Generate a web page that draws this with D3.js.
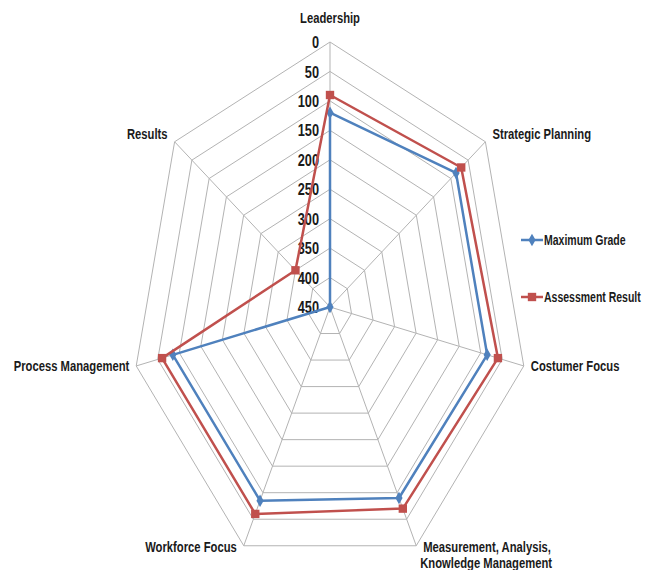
<!DOCTYPE html>
<html><head><meta charset="utf-8">
<script src="https://cdn.jsdelivr.net/npm/d3@7/dist/d3.min.js"></script>
<style>
body{margin:0;background:#fff;}
text{font-family:"Liberation Sans",Arial,sans-serif;fill:#1a1a1a;}
</style></head>
<body>
<svg id="chart" width="646" height="570"></svg>
<script>
const categories = ["Leadership","Strategic Planning","Costumer Focus","Measurement, Analysis, Knowledge Management","Workforce Focus","Process Management","Results"];
const seriesNames = ["Maximum Grade","Assessment Result"];
const maximumGrade = [120,85,85,90,85,85,450];
const assessmentResult = [90,70,60,70,60,60,350];
const tickValues = [0,50,100,150,200,250,300,350,400,450];
const colors = ["#4F81BD","#C0504D"];

const svg = d3.select("#chart");
const sx = 0.75;            // horizontal compression of the reference
const cx = 330, cy = 307, R = 265;
const g = svg.append("g").attr("transform",`translate(${cx},${cy}) scale(${sx},1)`);

const n = categories.length;
const angle = i => i * 2 * Math.PI / n;
// reversed radial scale: 0 at the rim, 450 at the centre
const r = d3.scaleLinear().domain([0,450]).range([R,0]);
const pt = (i,v) => [Math.sin(angle(i))*r(v), -Math.cos(angle(i))*r(v)];

// grid rings
const ringVals = tickValues.slice(0,-1);
g.selectAll(".ring").data(ringVals).join("path")
  .attr("d", v => d3.line()(d3.range(n).map(i=>pt(i,v))) + "Z")
  .attr("fill","none").attr("stroke","#b3b3b3").attr("stroke-width",1)
  .attr("vector-effect","non-scaling-stroke");
// spokes
g.selectAll(".spoke").data(d3.range(n)).join("line")
  .attr("x1",0).attr("y1",0)
  .attr("x2",i=>pt(i,0)[0]).attr("y2",i=>pt(i,0)[1])
  .attr("stroke","#b3b3b3").attr("stroke-width",1)
  .attr("vector-effect","non-scaling-stroke");

// tick labels
g.selectAll(".tick").data(tickValues).join("text")
  .attr("x",-11/sx).attr("y",v=>-r(v)).attr("dy","0.36em")
  .attr("text-anchor","end").attr("font-size",17).attr("font-weight","bold")
  .text(d=>d);

// series
const series = [maximumGrade, assessmentResult];
series.forEach((vals,s)=>{
  const pts = vals.map((v,i)=>pt(i,v));
  g.append("path").attr("d", d3.line()(pts)+"Z")
    .attr("fill","none").attr("stroke",colors[s]).attr("stroke-width",2.5)
    .attr("stroke-linejoin","round")
    .attr("vector-effect","non-scaling-stroke");
  const sym = s===0 ? d3.symbolDiamond : d3.symbolSquare;
  const size = s===0 ? 45 : 70;
  g.selectAll(".m"+s).data(pts).join("path")
    .attr("transform",p=>`translate(${p[0]},${p[1]}) scale(${1/sx},1)`)
    .attr("d", d3.symbol().type(sym).size(size)())
    .attr("fill",colors[s]);
});

// category labels
categories.forEach((c,i)=>{
  const a = angle(i), s = Math.sin(a), co = Math.cos(a);
  const [vx,vy] = pt(i,0);
  let anchor = "middle", x = vx, y = vy;
  if (s > 0.1) { anchor="start"; x = vx + 7/sx; }
  else if (s < -0.1) { anchor="end"; x = vx - 7/sx; }
  if (i===0) y = vy - 24;
  else if (co > 0.5) y = vy - 8;
  else if (co < -0.5) y = vy + 1;
  const t = g.append("text").attr("x",x).attr("y",y).attr("dy","0.36em")
    .attr("text-anchor",anchor).attr("font-size",15).attr("font-weight","bold");
  if (c.startsWith("Measurement")) {
    t.append("tspan").attr("x",x).text("Measurement, Analysis,");
    t.append("tspan").attr("x",x-3/sx).attr("dy","1.05em").text("Knowledge Management");
  } else t.text(c);
});

// legend
const lg = svg.append("g").attr("transform",`scale(${sx},1)`);
seriesNames.forEach((name,s)=>{
  const y = s===0 ? 240 : 297;
  lg.append("line").attr("x1",521/sx).attr("x2",543/sx).attr("y1",y).attr("y2",y)
    .attr("stroke",colors[s]).attr("stroke-width",2.5).attr("vector-effect","non-scaling-stroke");
  lg.append("path").attr("transform",`translate(${532/sx},${y}) scale(${1/sx},1)`)
    .attr("d", d3.symbol().type(s===0?d3.symbolDiamond:d3.symbolSquare).size(s===0?45:70)())
    .attr("fill",colors[s]);
  lg.append("text").attr("x",544/sx).attr("y",y).attr("dy","0.36em")
    .attr("font-size",14).attr("font-weight","bold").text(name);
});
</script>
</body></html>
